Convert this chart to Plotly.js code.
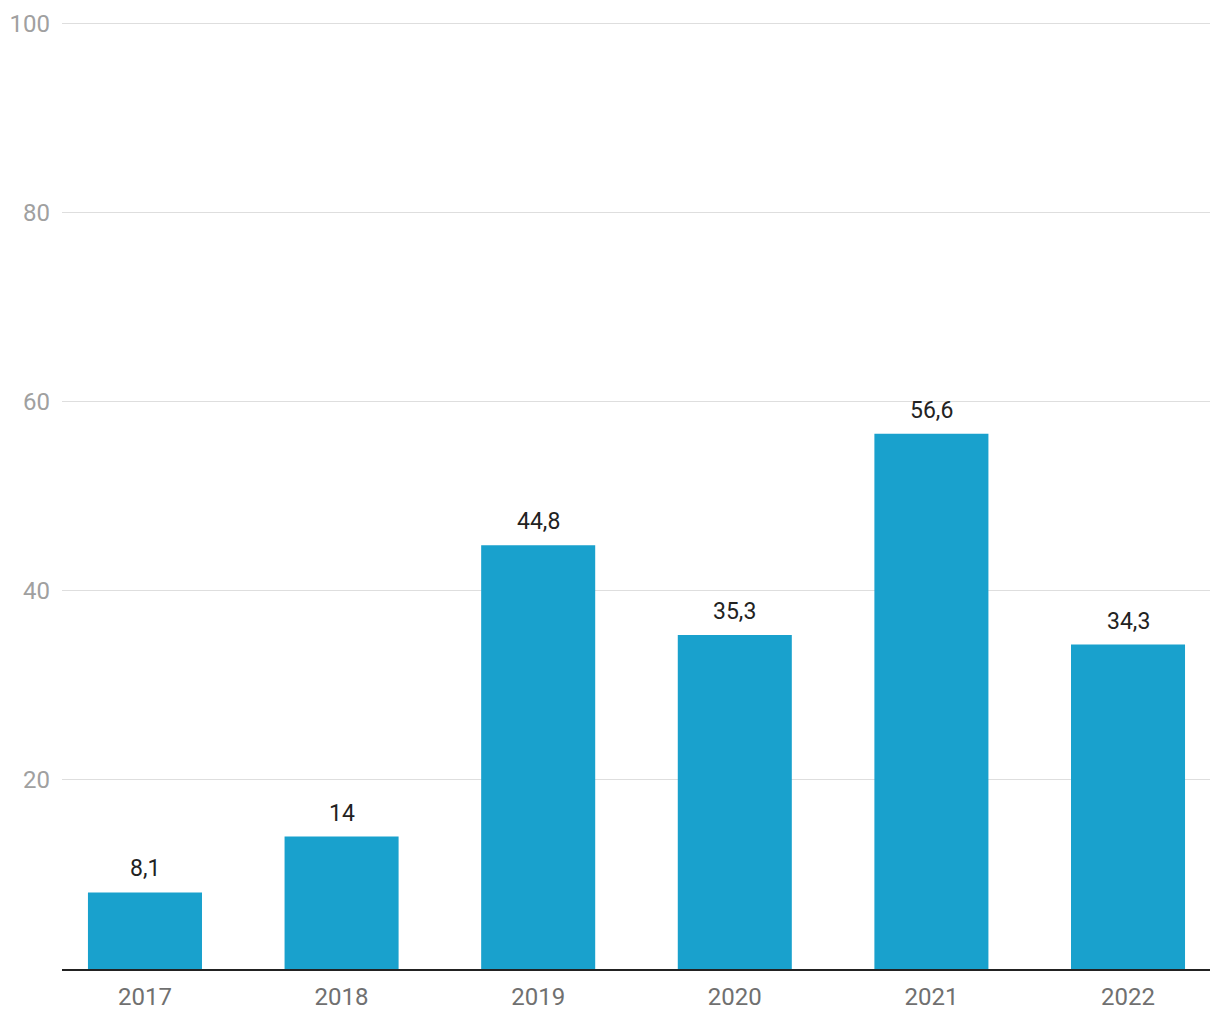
<!DOCTYPE html>
<html>
<head>
<meta charset="utf-8">
<script src="https://cdn.plot.ly/plotly-3.0.1.min.js"></script>
<style>html,body{margin:0;padding:0;background:#fff}#chart{width:1220px;height:1020px}</style>
</head>
<body>
<div id="chart"></div>
<script>
const years = ['2017','2018','2019','2020','2021','2022'];
const values = [8.1, 14, 44.8, 35.3, 56.6, 34.3];
const yTicks = [0, 20, 40, 60, 80, 100];
const yTickLabels = ['', '20', '40', '60', '80', '100'];

const fmt = v => String(v).replace('.', ',');

const trace = {
  type: 'bar',
  x: years,
  y: values,
  marker: {color: '#19a1cd'},
  width: 0.58,
  hoverinfo: 'skip'
};

const annotations = years.map((yr, i) => ({
  x: i, y: values[i], text: fmt(values[i]),
  xref: 'x', yref: 'y',
  showarrow: false, xanchor: 'center', yanchor: 'bottom', yshift: 8,
  font: {family: 'Roboto', size: 23, color: '#222'}
}));

const layout = {
  width: 1220, height: 1020,
  margin: {l: 62, r: 10, t: 22, b: 51, pad: 0},
  paper_bgcolor: '#fff', plot_bgcolor: '#fff',
  showlegend: false,
  separators: ', ',
  font: {family: 'Roboto', size: 22},
  xaxis: {
    type: 'category',
    range: [-0.422, 5.417],
    showgrid: false, zeroline: false,
    showline: true, linecolor: '#222', linewidth: 2,
    ticks: '', ticklabelstandoff: 5,
    tickfont: {family: 'Roboto', size: 24, color: '#707070'},
    fixedrange: true
  },
  yaxis: {
    range: [0, 100.12],
    tickvals: yTicks, ticktext: yTickLabels,
    showgrid: true, gridcolor: '#dedede', gridwidth: 1,
    zeroline: false, showline: false, ticks: '',
    ticklabelstandoff: 11,
    tickfont: {family: 'Roboto', size: 24, color: '#a0a0a0'},
    fixedrange: true
  },
  annotations: annotations
};

Plotly.newPlot('chart', [trace], layout, {staticPlot: true, displayModeBar: false});
</script>
</body>
</html>
